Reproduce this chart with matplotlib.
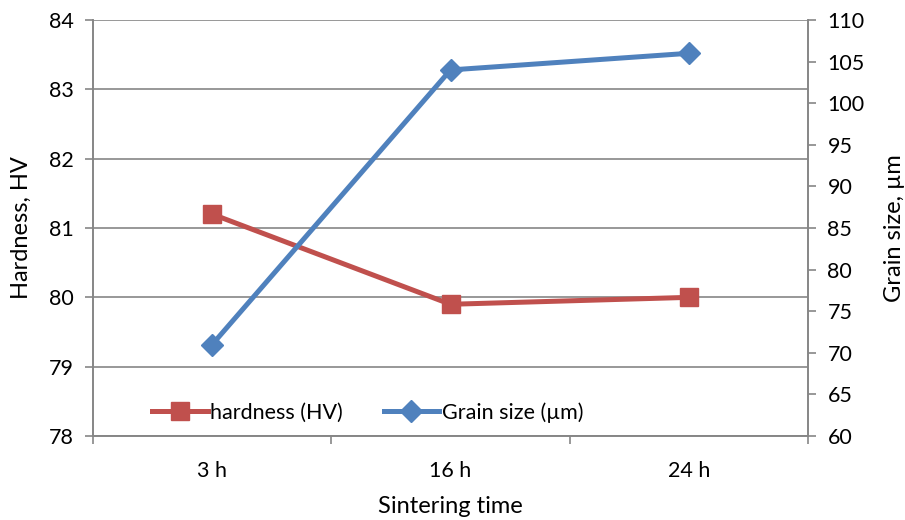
import matplotlib.pyplot as plt

plt.rcParams['font.family'] = ['Lato', 'DejaVu Sans']

times = ["3 h", "16 h", "24 h"]
hardness = [81.2, 79.9, 80.0]
grain = [71, 104, 106]

red = "#C0504D"
blue = "#4F81BD"
grey = "#868686"

fig = plt.figure(figsize=(9.05, 5.2), dpi=100)
ax = fig.add_axes([0.1028, 0.1615, 0.79, 0.8])
ax2 = ax.twinx()

x = list(range(len(times)))
l1, = ax.plot(x, hardness, color=red, lw=3.6, marker='s', ms=13, label="hardness (HV)")
l2, = ax2.plot(x, grain, color=blue, lw=3.6, marker='D', ms=11, label="Grain size (µm)")

ax.set_xlim(-0.5, 2.5)
ax.set_ylim(78, 84)
ax2.set_ylim(60, 110)
ax.set_yticks(range(78, 85))
ax2.set_yticks(range(60, 111, 5))
ax.set_xticks([-0.5, 0.5, 1.5, 2.5])
ax.set_xticklabels([])
ax.set_xticks(x, minor=True)
ax.set_xticklabels(times, minor=True)
ax.tick_params(axis='x', which='minor', length=0, pad=18, labelsize=15.5)
ax.tick_params(axis='x', which='major', length=6, color=grey, width=1.2)
ax.tick_params(axis='y', length=6, color=grey, width=1.2, labelsize=15.5, pad=8)
ax2.tick_params(axis='y', length=6, color=grey, width=1.2, labelsize=15.5, pad=8)

ax.grid(axis='y', color=grey, lw=1.2)
ax.set_axisbelow(True)
for a in (ax, ax2):
    a.spines['top'].set_visible(False)
    for s in ('left', 'right', 'bottom'):
        a.spines[s].set_color(grey)
        a.spines[s].set_linewidth(1.2)

ax.set_xlabel("Sintering time", fontsize=17, labelpad=11)
ax.set_ylabel("Hardness, HV", fontsize=17, labelpad=12)
ax2.set_ylabel("Grain size, µm", fontsize=17, labelpad=14)

ax2.legend([l1, l2], [l1.get_label(), l2.get_label()], loc='lower left',
           bbox_to_anchor=(0.055, -0.015), ncol=2, frameon=False, fontsize=15.5,
           handlelength=2.6, handletextpad=0.1, columnspacing=1.9)

fig.savefig("out.png", dpi=100)
